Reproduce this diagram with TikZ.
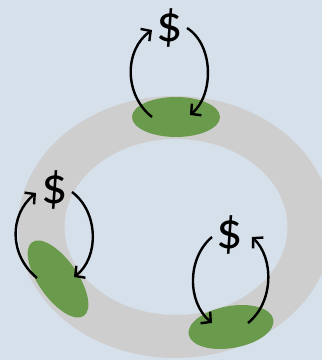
\documentclass[tikz,border=0pt]{standalone}
\usepackage{fontspec}
\setmainfont{Carlito}
\usetikzlibrary{arrows.meta,shapes.geometric}
\definecolor{bgblue}{RGB}{214,224,234}
\definecolor{ringgray}{RGB}{206,206,206}
\definecolor{leaf}{RGB}{106,155,76}
\tikzset{
  blob/.style={ellipse, fill=leaf, draw=none, minimum width=88pt, minimum height=40pt, inner sep=0pt},
  money/.style={font=\fontsize{52}{52}\selectfont, inner sep=0pt},
  flow/.style={line width=2.4pt, -{Straight Barb[length=7pt,width=15pt,line width=2.4pt]}}
}
\begin{document}
\begin{tikzpicture}[x=1pt,y=-1pt]
\useasboundingbox (0,0) rectangle (322,360);
\fill[bgblue] (0,0) rectangle (322,360);
\fill[ringgray,even odd rule] (175,227) ellipse [x radius=157pt, y radius=131pt]
  (176,227) ellipse [x radius=111.5pt, y radius=88pt];
% green blobs
\node[blob] (gtop) at (176,117) {};
\node[blob, minimum width=90pt, minimum height=39pt, rotate=-55] (gleft) at (58,279) {};
\node[blob, minimum width=86pt, minimum height=42pt, rotate=10] (gright) at (231,327) {};
% dollar signs
\node[money] (dtop) at (170,28) {\$};
\node[money] (dleft) at (55,190) {\$};
\node[money] (dright) at (230,235) {\$};
% arrow endpoints
\coordinate (t1) at (152,117); \coordinate (t2) at (152,30);
\coordinate (t3) at (187,28);  \coordinate (t4) at (190,115);
\coordinate (l1) at (37,278);  \coordinate (l2) at (36,193);
\coordinate (l3) at (72,192);  \coordinate (l4) at (74,277);
\coordinate (r1) at (212,237); \coordinate (r2) at (212,323);
\coordinate (r3) at (248,323); \coordinate (r4) at (252,237);
% arrows
\draw[flow] (t1) .. controls (124,95) and (124,50) .. (t2);
\draw[flow] (t3) .. controls (214,45) and (214,95) .. (t4);
\draw[flow] (l1) .. controls (9,255) and (9,215) .. (l2);
\draw[flow] (l3) .. controls (99,212) and (99,258) .. (l4);
\draw[flow] (r1) .. controls (187,258) and (187,302) .. (r2);
\draw[flow] (r3) .. controls (274,302) and (274,258) .. (r4);
\end{tikzpicture}
\end{document}
